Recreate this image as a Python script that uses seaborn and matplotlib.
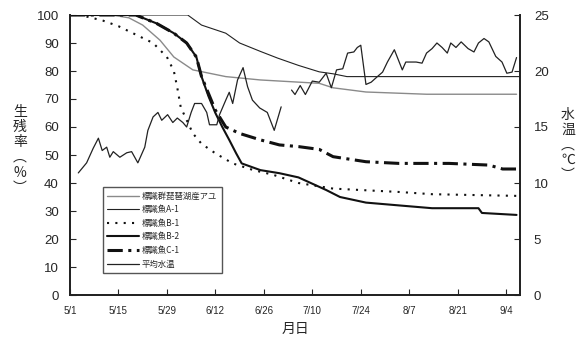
import numpy as np
import pandas as pd
import matplotlib
matplotlib.use("Agg")
import matplotlib.pyplot as plt
import seaborn as sns

# days counted from 5/1
tick_days = [0, 14, 28, 42, 56, 70, 84, 98, 112, 126]
tick_labels = ["5/1", "5/15", "5/29", "6/12", "6/26", "7/10", "7/24", "8/7", "8/21", "9/4"]

# 標識群琵琶湖産アユ (gray)
days_gr = [0, 12, 17, 21, 26, 30, 35.5, 45, 55, 72, 76, 85.5, 103, 129]
surv_gr = [100, 100, 99, 96.4, 91, 85, 80.4, 78, 76.8, 75.6, 74, 72.5, 71.7, 71.7]

# 標識魚A-1
days_a1 = [0, 34, 38, 45, 49, 55, 60, 66, 72, 76, 80, 130]
surv_a1 = [100, 100, 96.4, 93.5, 90, 87, 84.6, 82, 79.7, 79, 78, 78]

# 標識魚B-1
days_b1 = [0, 3, 9.5, 14, 19, 24, 28, 30, 31, 32, 33.7, 35.5, 38, 42, 47, 53, 58.5, 66, 76, 95, 104.6, 129]
surv_b1 = [100, 100, 98, 96, 93, 90, 85, 80, 74, 67, 62.5, 57.7, 54, 50.6, 47, 44.6, 43, 40, 38, 36.8, 36, 35.4]

# 標識魚B-2
days_b2 = [0, 19, 25, 30, 33.7, 36.5, 38, 40, 42, 44, 46, 48, 49.6, 55, 60.5, 66, 74, 78, 85.5, 95, 104.6, 118, 119, 129]
surv_b2 = [100, 100, 97, 93.5, 90, 85, 78, 71, 65, 60, 55.4, 50.6, 47, 44.6, 43.5, 42, 37.5, 35, 33, 32, 31, 31, 29.3, 28.6]

# 標識魚C-1
days_c1 = [0, 19, 25, 30, 33.7, 36.5, 38, 40, 42, 45, 49, 55, 60.5, 66, 72, 76, 85.5, 95, 109.5, 121, 125, 129]
surv_c1 = [100, 100, 97, 93.5, 90, 85, 78, 72, 66, 60, 57.7, 55.4, 53.6, 53, 52, 49.4, 47.6, 47, 47, 46.4, 45, 45]

# 平均水温 (two pieces, gap around 6/30-7/3)
days_t1 = [2.4, 4.8, 6.7, 8.2, 9.3, 10.6, 11.5, 12.5, 14.4, 16.4, 17.8, 19.6, 21.6, 22.5, 24, 25.4, 26.5,
           28.2, 29.7, 31, 32.6, 33.7, 35, 36, 38, 39.5, 40.3, 42.4, 43.2, 45, 46, 47, 48.4, 50, 51.3,
           52.7, 54.8, 57, 59, 61]
temp_t1 = [10.9, 11.8, 13.1, 14, 12.9, 13.2, 12.3, 12.8, 12.3, 12.7, 12.8, 11.8, 13.2, 14.7, 15.9, 16.3, 15.6,
           16.1, 15.4, 15.8, 15.4, 15, 16.3, 17.1, 17.1, 16.3, 15.2, 15.2, 16.1, 17.4, 18.1, 17.1, 19.2, 20.3, 18.6,
           17.4, 16.7, 16.3, 14.7, 16.8]
days_t2 = [64, 65, 66.5, 68, 70, 72, 74, 75.5, 77, 78.8, 80.2, 82, 83, 84, 85.5, 87, 88.8, 90.3, 91.7, 93.7,
           96, 97, 100, 101.7, 103, 104.6, 106, 107.5, 109, 110, 111.5, 113, 115, 116.7, 118, 119.6, 121,
           123, 124.8, 126.2, 127.7, 129]
temp_t2 = [18.3, 17.9, 18.7, 17.9, 19.1, 19, 19.8, 18.5, 20.1, 20.2, 21.6, 21.7, 22.1, 22.3, 18.8, 19, 19.5, 19.9,
           20.8, 21.9, 20.1, 20.8, 20.8, 20.7, 21.6, 22, 22.5, 22.1, 21.6, 22.5, 22.1, 22.6, 22, 21.7, 22.5, 22.9,
           22.6, 21.3, 20.8, 19.8, 19.9, 21.2]

sns.set_style("ticks")
plt.rcParams['font.family'] = ['Liberation Sans', 'Noto Sans CJK JP', 'DejaVu Sans']

fig, ax = plt.subplots(figsize=(5.84, 3.38), dpi=100)
fig.subplots_adjust(left=70/584, right=520/584, top=1-15/338, bottom=1-295/338)
ax2 = ax.twinx()

sns.lineplot(x=days_gr, y=surv_gr, ax=ax, color="#8a8a8a", linewidth=1.0, label="標識群琵琶湖産アユ", legend=False)
sns.lineplot(x=days_a1, y=surv_a1, ax=ax, color="#222222", linewidth=0.8, label="標識魚A-1", legend=False)
sns.lineplot(x=days_b1, y=surv_b1, ax=ax, color="#111111", linewidth=1.5, linestyle=(0, (1, 3)),
             label="標識魚B-1", legend=False)
sns.lineplot(x=days_b2, y=surv_b2, ax=ax, color="#111111", linewidth=1.5, label="標識魚B-2", legend=False)
sns.lineplot(x=days_c1, y=surv_c1, ax=ax, color="#111111", linewidth=2.2, linestyle=(0, (5, 1.8, 1, 1.8)),
             label="標識魚C-1", legend=False)

sns.lineplot(x=days_t1, y=temp_t1, ax=ax2, color="#222222", linewidth=0.9, label="平均水温", legend=False)
sns.lineplot(x=days_t2, y=temp_t2, ax=ax2, color="#222222", linewidth=0.9, legend=False)

ax.set_xlim(0, 130)
ax.set_ylim(0, 100)
ax2.set_ylim(0, 25)
ax.set_yticks(range(0, 101, 10))
ax2.set_yticks(range(0, 26, 5))
ax.set_xticks(tick_days)
ax.set_xticklabels(tick_labels, fontsize=7)
ax.tick_params(axis='y', direction='in', labelsize=9.5, length=4, pad=8)
ax.tick_params(axis='x', direction='in', length=4, pad=8)
ax2.tick_params(axis='y', direction='in', labelsize=9.5, length=4, pad=10)

for a in (ax, ax2):
    a.spines['top'].set_visible(False)
    for s in ('left', 'right', 'bottom'):
        a.spines[s].set_linewidth(1.3)
        a.spines[s].set_color("#222222")

ax.set_xlabel("月日", fontsize=10, labelpad=4)
ax.set_ylabel("")
ax2.set_ylabel("")
fig.text(20/584, 1-150/338, "生\n残\n率\n︵\n%\n︶", ha='center', va='center', fontsize=10,
         linespacing=1.1, family=['Noto Sans CJK JP', 'DejaVu Sans'])
fig.text(568/584, 1-145/338, "水\n温\n︵\n℃\n︶", ha='center', va='center', fontsize=10,
         linespacing=1.1, family=['Noto Sans CJK JP', 'DejaVu Sans'])

h1, l1 = ax.get_legend_handles_labels()
h2, l2 = ax2.get_legend_handles_labels()
leg = ax2.legend(h1 + h2, l1 + l2, loc='upper left', bbox_to_anchor=(0.073, 0.386), borderaxespad=0,
                 handlelength=3.8, handletextpad=0.3, labelspacing=0.55, borderpad=0.55,
                 fancybox=False, framealpha=1, edgecolor="#555555",
                 prop={'family': ['Noto Sans CJK JP'], 'size': 6})
leg.get_frame().set_linewidth(1.0)

fig.savefig("out.png", dpi=100)
